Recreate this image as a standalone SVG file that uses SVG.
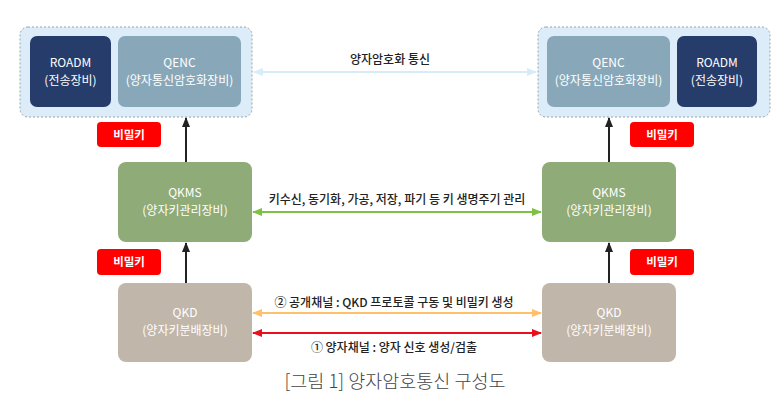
<svg xmlns="http://www.w3.org/2000/svg" width="782" height="417" viewBox="0 0 782 417">
<defs>
<style>
.t{font-family:"Noto Sans CJK KR","Noto Sans",sans-serif;}
.nt{font-size:12px;fill:#ffffff;text-anchor:middle;}
.lb{font-size:12px;fill:#222222;text-anchor:middle;font-weight:500;}
.key{fill:#ff0000;}
.kt{font-size:11.5px;font-weight:bold;fill:#ffffff;text-anchor:middle;}
.cont{fill:#dcedf9;stroke:#9aa4ad;stroke-width:1;stroke-dasharray:2 2;}
</style>
<marker id="ab" viewBox="0 0 10 10" refX="9" refY="5" markerWidth="10" markerHeight="10" markerUnits="userSpaceOnUse" orient="auto-start-reverse"><path d="M0,1 L10,5 L0,9 z" fill="#222"/></marker>
<marker id="ag" viewBox="0 0 10 10" refX="9" refY="5" markerWidth="10" markerHeight="10" markerUnits="userSpaceOnUse" orient="auto-start-reverse"><path d="M0,1 L10,5 L0,9 z" fill="#7dc242"/></marker>
<marker id="alb" viewBox="0 0 10 10" refX="9" refY="5" markerWidth="10" markerHeight="10" markerUnits="userSpaceOnUse" orient="auto-start-reverse"><path d="M0,1 L10,5 L0,9 z" fill="#d6ecf8"/></marker>
<marker id="ao" viewBox="0 0 10 10" refX="9" refY="5" markerWidth="10" markerHeight="10" markerUnits="userSpaceOnUse" orient="auto-start-reverse"><path d="M0,1 L10,5 L0,9 z" fill="#ffc06a"/></marker>
<marker id="ar" viewBox="0 0 10 10" refX="9" refY="5" markerWidth="10" markerHeight="10" markerUnits="userSpaceOnUse" orient="auto-start-reverse"><path d="M0,1 L10,5 L0,9 z" fill="#e8101a"/></marker>
</defs>
<rect width="782" height="417" fill="#ffffff"/>
<g id="left-container"><rect class="cont" x="20" y="27" width="232" height="90" rx="8"/></g>
<g id="right-container"><rect class="cont" x="538" y="27" width="232" height="90" rx="8"/></g>
<g id="roadm-left"><rect x="30" y="36" width="81" height="71" rx="7" fill="#263d6b"/>
<text class="t nt" x="70.5" y="67">ROADM</text><text class="t nt" x="70.5" y="85">(전송장비)</text></g>
<g id="qenc-left"><rect x="118" y="36" width="123" height="71" rx="7" fill="#88a8b9"/>
<text class="t nt" x="179.5" y="67">QENC</text><text class="t nt" x="179.5" y="85">(양자통신암호화장비)</text></g>
<g id="qenc-right"><rect x="547" y="36" width="123" height="71" rx="7" fill="#88a8b9"/>
<text class="t nt" x="608.5" y="67">QENC</text><text class="t nt" x="608.5" y="85">(양자통신암호화장비)</text></g>
<g id="roadm-right"><rect x="677" y="36" width="80" height="71" rx="7" fill="#263d6b"/>
<text class="t nt" x="717" y="67">ROADM</text><text class="t nt" x="717" y="85">(전송장비)</text></g>
<g id="qkms-left"><rect x="118" y="162" width="134" height="80" rx="8" fill="#8fab77"/>
<text class="t nt" x="185" y="197">QKMS</text><text class="t nt" x="185" y="215">(양자키관리장비)</text></g>
<g id="qkms-right"><rect x="542" y="162" width="134" height="80" rx="8" fill="#8fab77"/>
<text class="t nt" x="609" y="197">QKMS</text><text class="t nt" x="609" y="215">(양자키관리장비)</text></g>
<g id="qkd-left"><rect x="118" y="283" width="134" height="79" rx="8" fill="#c1b6aa"/>
<text class="t nt" x="185" y="317">QKD</text><text class="t nt" x="185" y="335">(양자키분배장비)</text></g>
<g id="qkd-right"><rect x="542" y="283" width="134" height="79" rx="8" fill="#c1b6aa"/>
<text class="t nt" x="609" y="317">QKD</text><text class="t nt" x="609" y="335">(양자키분배장비)</text></g>
<g id="key-left-1"><rect class="key" x="97" y="122" width="64" height="25" rx="4"/><text class="t kt" x="129" y="139">비밀키</text></g>
<g id="key-left-2"><rect class="key" x="97" y="249" width="64" height="26" rx="4"/><text class="t kt" x="129" y="266">비밀키</text></g>
<g id="key-right-1"><rect class="key" x="630" y="122" width="64" height="25" rx="4"/><text class="t kt" x="662" y="139">비밀키</text></g>
<g id="key-right-2"><rect class="key" x="630" y="249" width="64" height="26" rx="4"/><text class="t kt" x="662" y="266">비밀키</text></g>
<g id="connectors" fill="none">
<line x1="186" y1="162" x2="186" y2="118" stroke="#222" stroke-width="2" marker-end="url(#ab)"/>
<line x1="186" y1="283" x2="186" y2="243" stroke="#222" stroke-width="2" marker-end="url(#ab)"/>
<line x1="609" y1="162" x2="609" y2="118" stroke="#222" stroke-width="2" marker-end="url(#ab)"/>
<line x1="609" y1="283" x2="609" y2="243" stroke="#222" stroke-width="2" marker-end="url(#ab)"/>
<line x1="254" y1="72" x2="536" y2="72" stroke="#d6ecf8" stroke-width="2" marker-start="url(#alb)" marker-end="url(#alb)"/>
<line x1="253" y1="212" x2="541" y2="212" stroke="#7dc242" stroke-width="2" marker-start="url(#ag)" marker-end="url(#ag)"/>
<line x1="253" y1="313" x2="541" y2="313" stroke="#ffc06a" stroke-width="2" marker-start="url(#ao)" marker-end="url(#ao)"/>
<line x1="253" y1="333" x2="541" y2="333" stroke="#e8101a" stroke-width="2" marker-start="url(#ar)" marker-end="url(#ar)"/>
</g>
<g id="labels">
<text class="t lb" x="390" y="64">양자암호화 통신</text>
<text class="t lb" x="397" y="204">키수신, 동기화, 가공, 저장, 파기 등 키 생명주기 관리</text>
<text class="t lb" x="394" y="307">② 공개채널 : QKD 프로토콜 구동 및 비밀키 생성</text>
<text class="t lb" x="394" y="352">① 양자채널 : 양자 신호 생성/검출</text>
<text class="t" x="395" y="388" font-size="18.5" font-weight="300" fill="#444" text-anchor="middle">[그림 1] 양자암호통신 구성도</text>
</g>
</svg>
